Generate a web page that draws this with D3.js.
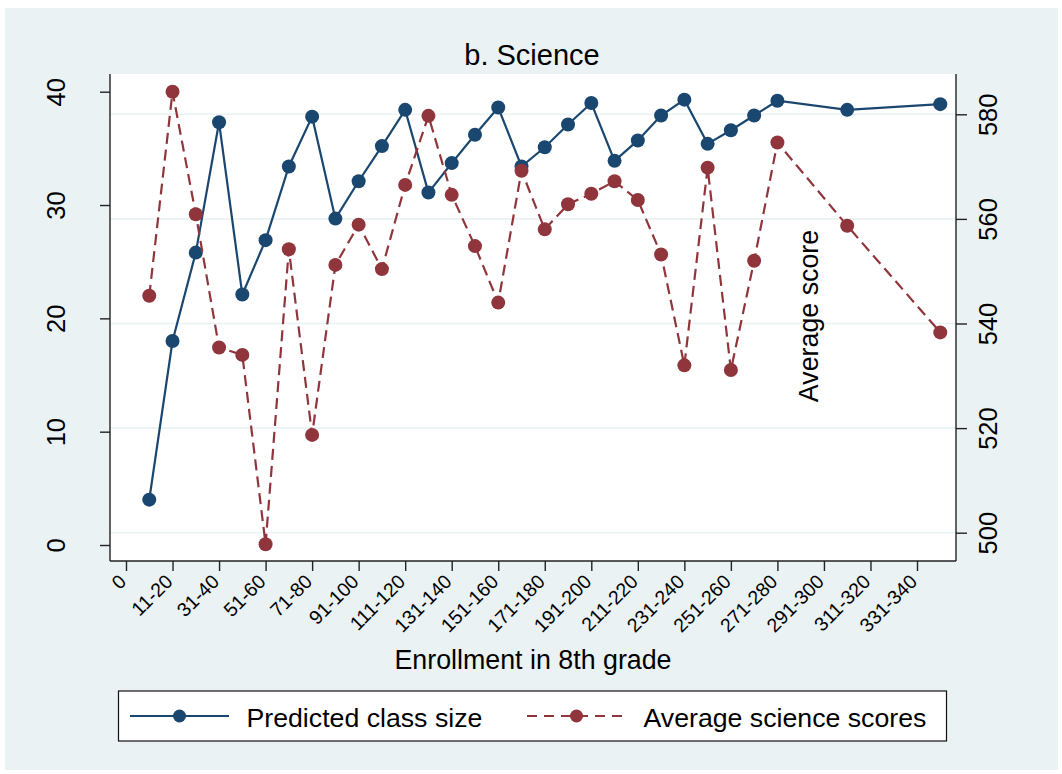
<!DOCTYPE html>
<html>
<head>
<meta charset="utf-8">
<script src="https://cdn.jsdelivr.net/npm/d3@7"></script>
<style>
  body { margin: 0; background: #fff; }
  text { font-family: "Liberation Sans", Arial, sans-serif; fill: #000; }
</style>
</head>
<body>
<script>
// data
var enrollIndex = [1,2,3,4,5,6,7,8,9,10,11,12,13,14,15,16,17,18,19,20,21,22,23,24,25,26,27,28,31,35];
var classSize = [4.0,18.0,25.8,37.3,22.1,26.9,33.4,37.8,28.8,32.1,35.2,38.4,31.1,33.7,36.2,38.6,33.4,35.1,37.1,39.0,33.9,35.7,37.9,39.3,35.4,36.6,37.9,39.2,38.4,38.9];
var scienceScore = [545.3,584.3,560.9,535.4,534.0,497.8,554.2,518.7,551.2,558.9,550.4,566.5,579.7,564.6,554.8,544.0,569.2,558.0,562.8,564.8,567.2,563.6,553.2,532.0,569.8,531.1,552.0,574.6,558.7,538.3];
var xTickIndex = [0,2,4,6,8,10,12,14,16,18,20,22,24,26,28,30,32,34];
var xTickLabels = ["0","11-20","31-40","51-60","71-80","91-100","111-120","131-140","151-160","171-180","191-200","211-220","231-240","251-260","271-280","291-300","311-320","331-340"];
var leftTicks = [0,10,20,30,40];
var rightTicks = [500,520,540,560,580];

var width = 1062, height = 774;
var plot = {left: 110, right: 956, top: 74, bottom: 561};
var blue = "#1a476f", red = "#90353b";

var svg = d3.select("body").append("svg")
  .attr("width", width)
  .attr("height", height);

// background
svg.append("rect")
  .attr("x", 5).attr("y", 8)
  .attr("width", width - 9).attr("height", height - 12)
  .attr("fill", "#eaf2f3");

svg.append("rect")
  .attr("x", plot.left).attr("y", plot.top)
  .attr("width", plot.right - plot.left).attr("height", plot.bottom - plot.top)
  .attr("fill", "#fff");

// scales
var x = d3.scaleLinear().domain([0, 34]).range([126, 917]);
var yL = d3.scaleLinear().domain([0, 40]).range([545, 91.7]);
var yR = d3.scaleLinear().domain([500, 580]).range([532.7, 114.3]);

// gridlines
svg.append("g").selectAll("line")
  .data(rightTicks).enter().append("line")
  .attr("x1", plot.left).attr("x2", plot.right)
  .attr("y1", d => yR(d)).attr("y2", d => yR(d))
  .attr("stroke", "#eaf2f3")
  .attr("stroke-width", 1.6);

// axes
var xAxis = svg.append("g")
  .attr("transform", "translate(0," + plot.bottom + ")")
  .call(d3.axisBottom(x).tickValues(xTickIndex).tickSize(10).tickSizeOuter(0)
    .tickFormat((d, i) => xTickLabels[i]));
xAxis.select(".domain").attr("d", "M" + plot.left + ",0H" + plot.right);
xAxis.selectAll("text")
  .attr("font-size", 19.5)
  .attr("text-anchor", "end")
  .attr("y", 0).attr("dy", "0.35em")
  .attr("transform", "translate(-4,17) rotate(-45)");

var leftAxis = svg.append("g")
  .attr("transform", "translate(" + plot.left + ",0)")
  .call(d3.axisLeft(yL).tickValues(leftTicks).tickSize(10).tickSizeOuter(0));
leftAxis.select(".domain").attr("d", "M0," + plot.top + "V" + plot.bottom);
leftAxis.selectAll("text")
  .attr("font-size", 25.5)
  .attr("text-anchor", "middle")
  .attr("x", 0).attr("dy", 0)
  .attr("transform", "translate(-45,0) rotate(-90)");

var rightAxis = svg.append("g")
  .attr("transform", "translate(" + plot.right + ",0)")
  .call(d3.axisRight(yR).tickValues(rightTicks).tickSize(11).tickSizeOuter(0));
rightAxis.select(".domain").attr("d", "M0," + plot.top + "V" + plot.bottom);
rightAxis.selectAll("text")
  .attr("font-size", 25.5)
  .attr("text-anchor", "middle")
  .attr("x", 0).attr("dy", 0)
  .attr("transform", "translate(41,0) rotate(-90)");

svg.selectAll(".domain, .tick line")
  .attr("stroke", "#222")
  .attr("stroke-width", 1.4);

// series
var data = enrollIndex.map(function(d, i) {
  return {x: d, size: classSize[i], score: scienceScore[i]};
});

var sizeLine = d3.line().x(d => x(d.x)).y(d => yL(d.size));
var scoreLine = d3.line().x(d => x(d.x)).y(d => yR(d.score));

svg.append("path")
  .datum(data)
  .attr("d", sizeLine)
  .attr("fill", "none")
  .attr("stroke", blue)
  .attr("stroke-width", 2.2);

svg.append("g").selectAll("circle")
  .data(data).enter().append("circle")
  .attr("cx", d => x(d.x)).attr("cy", d => yL(d.size))
  .attr("r", 7)
  .attr("fill", blue);

svg.append("path")
  .datum(data)
  .attr("d", scoreLine)
  .attr("fill", "none")
  .attr("stroke", red)
  .attr("stroke-width", 2.2)
  .attr("stroke-dasharray", "11,6");

svg.append("g").selectAll("circle")
  .data(data).enter().append("circle")
  .attr("cx", d => x(d.x)).attr("cy", d => yR(d.score))
  .attr("r", 7)
  .attr("fill", red);

// texts
svg.append("text")
  .attr("x", 532).attr("y", 65)
  .attr("text-anchor", "middle")
  .attr("font-size", 29)
  .text("b. Science");

svg.append("text")
  .attr("x", 533).attr("y", 669)
  .attr("text-anchor", "middle")
  .attr("font-size", 26.8)
  .text("Enrollment in 8th grade");

svg.append("text")
  .attr("text-anchor", "middle")
  .attr("font-size", 26.8)
  .attr("transform", "translate(818,316) rotate(-90)")
  .text("Average score");

// legend
var legend = svg.append("g");
legend.append("rect")
  .attr("x", 118.5).attr("y", 691)
  .attr("width", 828).attr("height", 50)
  .attr("fill", "#fff")
  .attr("stroke", "#111")
  .attr("stroke-width", 1.2);

var legendItems = [
  {label: "Predicted class size", color: blue, dash: null, x0: 130},
  {label: "Average science scores", color: red, dash: "10,7", x0: 527}
];
legendItems.forEach(function(d) {
  legend.append("line")
    .attr("x1", d.x0).attr("x2", d.x0 + 99)
    .attr("y1", 716).attr("y2", 716)
    .attr("stroke", d.color)
    .attr("stroke-width", 2.2)
    .attr("stroke-dasharray", d.dash);
  legend.append("circle")
    .attr("cx", d.x0 + 49.5).attr("cy", 716)
    .attr("r", 6.5)
    .attr("fill", d.color);
  legend.append("text")
    .attr("x", d.x0 + 116.5).attr("y", 727)
    .attr("font-size", 26.7)
    .text(d.label);
});
</script>
</body>
</html>
